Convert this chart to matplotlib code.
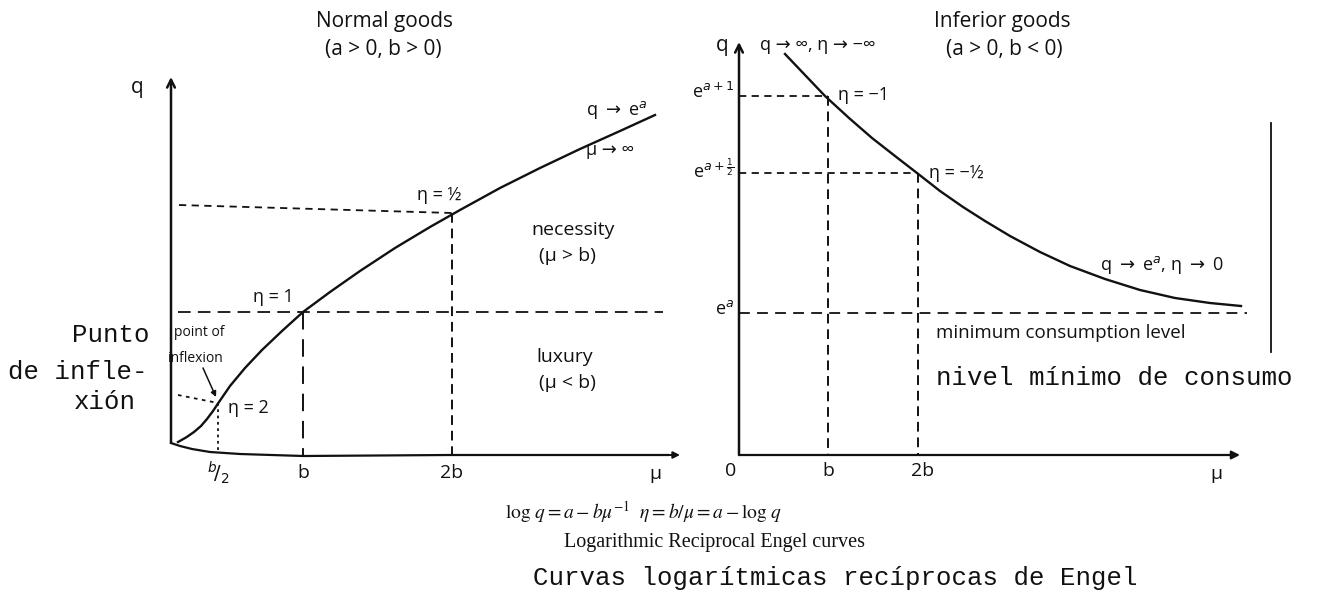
import matplotlib
matplotlib.use("Agg")
import matplotlib.pyplot as plt

# Drawing grid of the diagram: x to the right, y downwards
W, H = 1321, 605
INK = "#111111"

SANS = ["Open Sans", "DejaVu Sans"]
SERIF = ["Liberation Serif", "DejaVu Serif"]
MONO = ["Liberation Mono", "DejaVu Sans Mono"]

# ---- normal goods (a > 0, b > 0) ----
normal_mu = [178, 186, 194, 201, 207, 213, 218, 230, 245, 262, 282, 303, 330, 360,
             395, 430, 460, 500, 540, 580, 620, 655]
normal_q = [442, 437.5, 432, 426, 419, 411, 403.5, 386, 368, 350, 331, 312, 292, 271,
            248, 227, 210, 188, 168, 149, 131, 115]

normal_base_mu = [171, 180, 192, 210, 240, 303, 450, 668]
normal_base_q = [443, 446, 449, 452, 454, 456, 455, 455]

normal_axis_x = 171
normal_axis_top = 77
normal_ticks_mu = [218, 303, 452]          # b/2, b, 2b
normal_ticks_q = [403, 312, 213]           # eta = 2, 1, 1/2
normal_left_q = [395, 312, 205]            # where the guide lines meet the q axis
normal_tick_labels = [r"$^{b}\!/_{2}$", "b", "2b"]
normal_guide_start = 178
normal_guide_end = 663                     # eta = 1 line runs across the panel

# ---- inferior goods (a > 0, b < 0) ----
inferior_mu = [785, 805, 825, 849, 872, 895, 917, 940, 963, 985, 1010, 1040,
               1070, 1105, 1140, 1175, 1210, 1241]
inferior_q = [54, 75, 96, 118, 138, 156, 173, 191, 207, 221, 236, 252,
              266, 279, 290, 298, 303, 306]

inferior_axis_x = 739
inferior_axis_top = 42
inferior_base_q = 455
inferior_base_end = 1240
inferior_ticks_mu = [828, 918]             # b, 2b
inferior_ticks_q = [96, 173]               # e^(a+1), e^(a+1/2)
inferior_floor_q = 313                     # e^a, minimum consumption
inferior_floor_end = 1247
inferior_q_labels = [r"e$^{a+1}$", r"e$^{a+\frac{1}{2}}$", r"e$^{a}$"]
inferior_tick_labels = ["0", "b", "2b"]
inferior_tick_pos = [731, 828, 923]

fig = plt.figure(figsize=(W / 100, H / 100), dpi=100)
ax = fig.add_axes([0, 0, 1, 1])
ax.set_xlim(0, W)
ax.set_ylim(H, 0)
ax.axis("off")


def label(x, y, s, size=14, ha="left", family=SANS, **kw):
    ax.text(x, y, s, fontsize=size, ha=ha, va="center", family=family,
            color=INK, math_fontfamily="dejavusans", **kw)


def arrow(x0, y0, x1, y1, style="->", lw=1.8, scale=14):
    ax.annotate("", xy=(x1, y1), xytext=(x0, y0),
                arrowprops=dict(arrowstyle=style, lw=lw, color=INK,
                                shrinkA=0, shrinkB=0, mutation_scale=scale))


# left panel: axes
arrow(normal_axis_x, normal_base_q[0], normal_axis_x, normal_axis_top)
ax.plot(normal_base_mu, normal_base_q, color=INK, lw=1.6)
arrow(normal_base_mu[-1] - 4, normal_base_q[-1], normal_base_mu[-1] + 12, normal_base_q[-1],
      style="-|>", lw=1.4, scale=10)
ax.plot(normal_mu, normal_q, color=INK, lw=1.7)

# left panel: guide lines
ax.plot([normal_guide_start, normal_ticks_mu[0]], [normal_left_q[0], normal_ticks_q[0]],
        color=INK, lw=1.3, ls=(0, (2, 2.5)))
ax.plot([normal_guide_start, normal_guide_end], [normal_left_q[1], normal_ticks_q[1]],
        color=INK, lw=1.3, ls=(0, (7, 4)))
ax.plot([normal_guide_start + 1, normal_ticks_mu[2]], [normal_left_q[2], normal_ticks_q[2]],
        color=INK, lw=1.3, ls=(0, (4, 3)))
ax.plot([normal_ticks_mu[0]] * 2, [normal_ticks_q[0], 452], color=INK, lw=1.3, ls=(0, (1.5, 2)))
ax.plot([normal_ticks_mu[1]] * 2, [normal_ticks_q[1], 456], color=INK, lw=1.4, ls=(0, (9, 5)))
ax.plot([normal_ticks_mu[2]] * 2, [normal_ticks_q[2], 455], color=INK, lw=1.4, ls=(0, (5, 3)))

# left panel: text
label(385, 22, "Normal goods", 15, ha="center")
label(383, 50, "(a > 0, b > 0)", 15, ha="center")
label(137, 88, "q", 15, ha="center")
label(586, 110, r"q $\rightarrow$ e$^{a}$", 13)
label(586, 150, "μ → ∞", 13)
label(417, 195, "η = ½", 13)
label(253, 297, "η = 1", 13)
label(228, 408, "η = 2", 13)
label(573, 230, "necessity", 14, ha="center")
label(567, 256, "(μ > b)", 14, ha="center")
label(565, 357, "luxury", 14, ha="center")
label(567, 383, "(μ < b)", 14, ha="center")
label(174, 332, "point of", 10)
label(168, 359, "inflexion", 10)
arrow(203, 368, 216, 397, style="-|>", lw=1.1, scale=8)
for mu, s in zip(normal_ticks_mu, normal_tick_labels):
    label(mu, 473, s, 14, ha="center")
label(655, 474, "μ", 14, ha="center")

label(72, 335, "Punto", 18.5, family=MONO)
label(8, 372, "de infle-", 18.5, family=MONO)
label(74, 402, "xión", 18.5, family=MONO)

# right panel: axes
arrow(inferior_axis_x, inferior_base_q, inferior_axis_x, inferior_axis_top)
arrow(inferior_axis_x, inferior_base_q, inferior_base_end, inferior_base_q,
      style="-|>", lw=1.6, scale=12)
ax.plot(inferior_mu, inferior_q, color=INK, lw=1.7)

# right panel: guide lines
for mu, q in zip(inferior_ticks_mu, inferior_ticks_q):
    ax.plot([inferior_axis_x, mu], [q, q], color=INK, lw=1.3, ls=(0, (4, 3)))
    ax.plot([mu, mu], [q, inferior_base_q], color=INK, lw=1.4, ls=(0, (5, 3)))
ax.plot([inferior_axis_x, inferior_floor_end], [inferior_floor_q] * 2,
        color=INK, lw=1.3, ls=(0, (6, 4)))

# right panel: text
label(1002, 22, "Inferior goods", 15, ha="center")
label(1004, 50, "(a > 0, b < 0)", 15, ha="center")
label(722, 45, "q", 15, ha="center")
label(760, 45, "q → ∞, η → −∞", 13)
for q, s in zip(inferior_ticks_q + [inferior_floor_q], inferior_q_labels):
    label(734, q - 4, s, 13, ha="right")
label(838, 95, "η = −1", 13)
label(929, 173, "η = −½", 13)
label(1100, 265, r"q $\rightarrow$ e$^{a}$, η $\rightarrow$ 0", 13)
label(936, 333, "minimum consumption level", 13.5)
label(936, 378, "nivel mínimo de consumo", 18.5, family=MONO)
for mu, s in zip(inferior_tick_pos, inferior_tick_labels):
    label(mu, 471, s, 14, ha="center")
label(1216, 474, "μ", 14, ha="center")

# page edge line beside the right panel
ax.plot([1271, 1271], [123, 352], color=INK, lw=1.3)

# caption
ax.text(505, 512, r"$\log\,q = a - b\mu^{-1}\ \ \eta = b/\mu = a - \log\,q$", fontsize=14,
        ha="left", va="center", color=INK, math_fontfamily="stix")
label(715, 543, "Logarithmic Reciprocal Engel curves", 14.5, ha="center", family=SERIF)
label(533, 578, "Curvas logarítmicas recíprocas de Engel", 18.5, family=MONO)

fig.savefig("out.png", dpi=100, facecolor="white")
